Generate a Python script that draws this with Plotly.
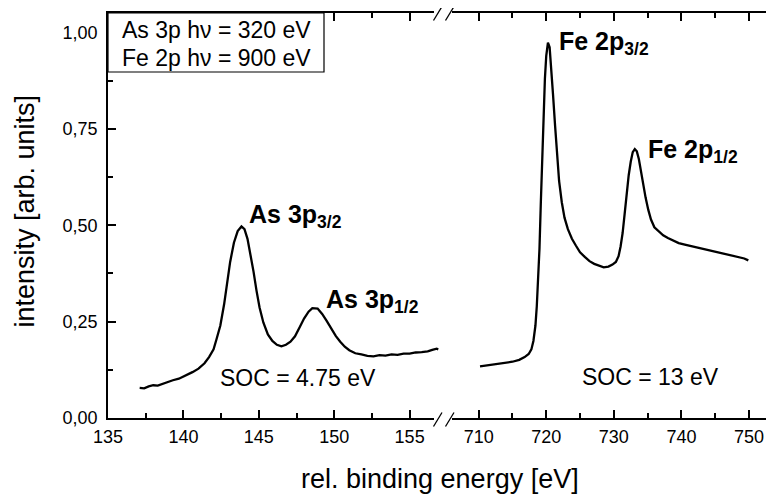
import plotly.graph_objects as go

# ---------------- data ----------------
as_energy = [137.1, 137.4, 137.7, 138.0, 138.3, 138.7, 139.0, 139.3, 139.7, 140.0,
             140.3, 140.6, 141.0, 141.4, 141.7, 142.0, 142.2, 142.45, 142.7, 142.9,
             143.1, 143.35, 143.6, 143.85, 144.05, 144.25, 144.45, 144.65, 144.85, 145.05,
             145.3, 145.6, 145.9, 146.2, 146.5, 146.8, 147.1, 147.4, 147.7, 148.0,
             148.3, 148.55, 148.9, 149.2, 149.5, 149.8, 150.1, 150.4, 150.7, 151.0,
             151.4, 151.8, 152.2, 152.6, 153.0, 153.4, 153.8, 154.2, 154.6, 155.0,
             155.4, 155.8, 156.2, 156.5, 156.8, 156.9]
as_intensity = [0.078, 0.077, 0.082, 0.085, 0.084, 0.090, 0.093, 0.098, 0.102, 0.107,
                0.112, 0.119, 0.128, 0.142, 0.158, 0.178, 0.205, 0.240, 0.295, 0.352,
                0.405, 0.455, 0.485, 0.497, 0.490, 0.465, 0.425, 0.380, 0.330, 0.287,
                0.248, 0.217, 0.200, 0.190, 0.186, 0.190, 0.198, 0.212, 0.235, 0.258,
                0.276, 0.285, 0.284, 0.270, 0.252, 0.232, 0.213, 0.198, 0.185, 0.176,
                0.168, 0.165, 0.161, 0.160, 0.163, 0.162, 0.165, 0.164, 0.167, 0.167,
                0.170, 0.171, 0.173, 0.177, 0.180, 0.178]

fe_energy = [710.2, 711.0, 712.0, 713.0, 714.0, 715.0, 716.0, 716.8, 717.4, 717.8,
             718.1, 718.4, 718.6, 718.8, 719.0, 719.2, 719.4, 719.6, 719.8, 720.0,
             720.25, 720.5, 720.75, 721.0, 721.3, 721.6, 721.9, 722.3, 722.7, 723.2,
             723.8, 724.4, 725.0, 725.7, 726.4, 727.1, 727.8, 728.5, 729.2, 729.8,
             730.3, 730.7, 731.0, 731.3, 731.6, 731.9, 732.2, 732.5, 732.8, 733.1,
             733.4, 733.7, 734.0, 734.3, 734.7, 735.1, 735.5, 736.0, 736.6, 737.3,
             738.0, 738.8, 739.6, 740.5, 741.5, 742.5, 743.5, 744.5, 745.5, 746.5,
             747.5, 748.5, 749.3, 749.9]
fe_intensity = [0.134, 0.136, 0.137, 0.140, 0.142, 0.146, 0.151, 0.158, 0.166, 0.178,
                0.200, 0.240, 0.290, 0.360, 0.440, 0.560, 0.680, 0.790, 0.880, 0.940,
                0.974, 0.962, 0.910, 0.840, 0.760, 0.680, 0.615, 0.560, 0.520, 0.490,
                0.465, 0.447, 0.430, 0.418, 0.407, 0.400, 0.396, 0.391, 0.393, 0.398,
                0.405, 0.420, 0.445, 0.480, 0.530, 0.585, 0.630, 0.665, 0.690, 0.698,
                0.692, 0.672, 0.640, 0.610, 0.572, 0.540, 0.515, 0.495, 0.484, 0.474,
                0.467, 0.460, 0.454, 0.450, 0.446, 0.441, 0.437, 0.433, 0.429, 0.425,
                0.422, 0.418, 0.414, 0.409]

left_ticks = [135, 140, 145, 150, 155]
right_ticks = [710, 720, 730, 740, 750]
y_ticks = [0.0, 0.25, 0.5, 0.75, 1.0]

# ---------------- figure ----------------
# the page body has an 8px margin, so the figure is made 8px smaller
OFF = 8
W, H = 774 - OFF, 494 - OFF
ML, MR, MT, MB = 108 - OFF, 0, 13 - OFF, 76
PW, PH = W - ML - MR, H - MT - MB
PLOT_L, PLOT_B = 108, 418          # page pixel positions of the plot area
SPLIT = (444 - PLOT_L) / PW

def px(xp):
    return (xp - PLOT_L) / PW

def py(yp):
    return (PLOT_B - yp) / PH

FONT = "Arial, Liberation Sans, sans-serif"
fig = go.Figure()
fig.add_trace(go.Scatter(x=as_energy, y=as_intensity, mode="lines",
                         line=dict(color="black", width=2.3), xaxis="x", yaxis="y",
                         showlegend=False))
fig.add_trace(go.Scatter(x=fe_energy, y=fe_intensity, mode="lines",
                         line=dict(color="black", width=2.3), xaxis="x2", yaxis="y",
                         showlegend=False))

axis_common = dict(showgrid=False, zeroline=False, showline=True, linecolor="black",
                   linewidth=1.5, ticks="inside", ticklen=8, tickwidth=1.5,
                   tickcolor="black", mirror="ticks", automargin=False,
                   tickfont=dict(family=FONT, size=18, color="black"))

fig.update_layout(
    width=W, height=H,
    margin=dict(l=ML, r=MR, t=MT, b=MB, autoexpand=False),
    paper_bgcolor="white", plot_bgcolor="white",
    separators=", ",
    showlegend=False,
    xaxis=dict(domain=[0, SPLIT], range=[135, 157.28], tickvals=left_ticks,
               minor=dict(ticks="inside", ticklen=5, tickwidth=1.5, tickcolor="black",
                          tickvals=[137.5, 142.5, 147.5, 152.5]),
               ticklabelstandoff=2, **axis_common),
    xaxis2=dict(domain=[SPLIT, 1], range=[704.87, 753.7], tickvals=right_ticks,
                anchor="y",
                minor=dict(ticks="inside", ticklen=5, tickwidth=1.5, tickcolor="black",
                           tickvals=[715, 725, 735, 745]),
                ticklabelstandoff=2, **axis_common),
    yaxis=dict(range=[0, 1.051], tickvals=y_ticks, tickformat=".2f",
               minor=dict(ticks="inside", ticklen=5, tickwidth=1.5, tickcolor="black",
                          tickvals=[0.125, 0.375, 0.625, 0.875]),
               ticklabelstandoff=5, automargin=False,
               showgrid=False, zeroline=False, showline=True, linecolor="black",
               linewidth=1.5, ticks="inside", ticklen=8, tickwidth=1.5, tickcolor="black",
               tickfont=dict(family=FONT, size=18, color="black")),
)

shapes = []
# axis break gaps
for yc in (418, 13):
    shapes.append(dict(type="rect", xref="paper", yref="paper",
                       x0=px(434), x1=px(452), y0=py(yc + 2), y1=py(yc - 2),
                       fillcolor="white", line=dict(width=0), layer="above"))
for yc in (419.5, 13.5):
    for x0 in (433.5, 445.5):
        shapes.append(dict(type="line", xref="paper", yref="paper",
                           x0=px(x0), y0=py(yc + 7), x1=px(x0 + 8.5), y1=py(yc - 7),
                           line=dict(color="black", width=1.3), layer="above"))
# info box
shapes.append(dict(type="rect", xref="paper", yref="paper",
                   x0=0, x1=px(324), y0=py(72), y1=1,
                   fillcolor="white", line=dict(color="black", width=1.2), layer="above"))
fig.update_layout(shapes=shapes)

ann = []
txt = dict(family=FONT, size=23, color="black")
ann.append(dict(text="As 3p h\u03bd = 320 eV", xref="paper", yref="paper",
                x=px(216), y=py(30), xanchor="center", yanchor="middle",
                showarrow=False, font=txt))
ann.append(dict(text="Fe 2p h\u03bd = 900 eV", xref="paper", yref="paper",
                x=px(216), y=py(58), xanchor="center", yanchor="middle",
                showarrow=False, font=txt))
bold = dict(family=FONT, size=25, color="black")
labels = [("<b>As 3p<sub>3/2</sub></b>", "x", 144.2, 0.523),
          ("<b>As 3p<sub>1/2</sub></b>", "x", 149.3, 0.304),
          ("<b>Fe 2p<sub>3/2</sub></b>", "x2", 721.6, 0.972),
          ("<b>Fe 2p<sub>1/2</sub></b>", "x2", 734.7, 0.692)]
for t, xr, xv, yv in labels:
    ann.append(dict(text=t, xref=xr, yref="y", x=xv, y=yv, xanchor="left",
                    yanchor="middle", showarrow=False, font=bold))
ann.append(dict(text="SOC = 4.75 eV", xref="x", yref="y", x=142.3, y=0.103,
                xanchor="left", yanchor="middle", showarrow=False, font=txt))
ann.append(dict(text="SOC = 13 eV", xref="x2", yref="y", x=724.98, y=0.106,
                xanchor="left", yanchor="middle", showarrow=False, font=txt))
title_font = dict(family=FONT, size=27, color="black")
ann.append(dict(text="rel. binding energy [eV]", xref="paper", yref="paper",
                x=px(440), y=py(479), xanchor="center", yanchor="middle",
                showarrow=False, font=title_font))
ann.append(dict(text="intensity [arb. units]", xref="paper", yref="paper",
                x=px(24.5), y=py(211), xanchor="center", yanchor="middle",
                textangle=-90, showarrow=False, font=title_font))
fig.update_layout(annotations=ann)

fig.write_html("out.html")
